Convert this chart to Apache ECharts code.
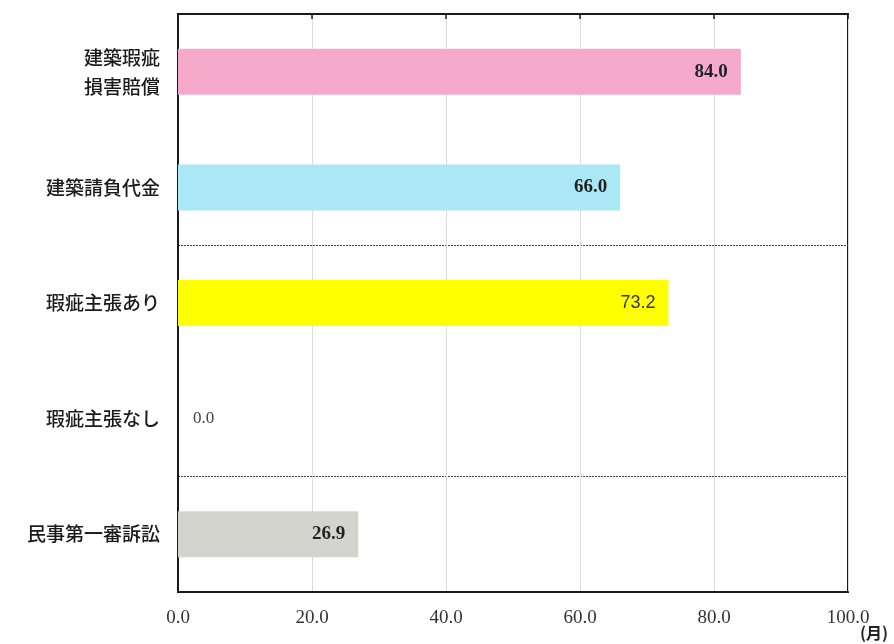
<!DOCTYPE html>
<html>
<head>
<meta charset="utf-8">
<script src="https://cdn.jsdelivr.net/npm/echarts@6/dist/echarts.min.js"></script>
<style>
  html, body { margin: 0; padding: 0; background: #fff; }
  #chart { width: 894px; height: 644px; }
</style>
</head>
<body>
<div id="chart"></div>
<script>
// 審理期間（月）
var categories = ['建築瑕疵\n損害賠償', '建築請負代金', '瑕疵主張あり', '瑕疵主張なし', '民事第一審訴訟'];
var months = [84.0, 66.0, 73.2, 0.0, 26.9];
var barColors = ['#F6AACB', '#ABE8F5', '#FFFF00', '#FFFFFF', '#D4D4CF'];
var xTicks = [0, 20, 40, 60, 80, 100];

var myChart = echarts.init(document.getElementById('chart'));

var serif = '"Liberation Serif", "DejaVu Serif", serif';

var option = {
  backgroundColor: '#fff',
  animation: false,
  grid: {
    left: 178,
    right: 46,
    top: 14,
    bottom: 52,
    outerBoundsMode: 'none',
    containLabel: false,
    show: true,
    borderColor: '#1a1a1a',
    borderWidth: 2
  },
  xAxis: [
    {
      type: 'value',
      min: xTicks[0],
      max: xTicks[xTicks.length - 1],
      interval: 20,
      name: '(月)',
      nameLocation: 'end',
      nameGap: 12,
      nameMoveOverlap: false,
      nameTextStyle: {
        color: '#222',
        fontSize: 16,
        fontWeight: 'bold',
        fontFamily: '"Noto Sans CJK JP", sans-serif',
        align: 'left',
        verticalAlign: 'top',
        padding: [33, 0, 0, 0]
      },
      axisLine: { show: true, lineStyle: { color: '#1a1a1a', width: 2 } },
      axisTick: { show: false },
      axisLabel: {
        margin: 17,
        fontSize: 19,
        color: '#333',
        fontFamily: serif,
        formatter: function (v) { return v.toFixed(1) }
      },
      splitLine: {
        show: true,
        lineStyle: { color: '#dcdcdc', width: 1 }
      }
    },
    {
      // 上辺の目盛り
      type: 'value',
      position: 'top',
      min: xTicks[0],
      max: xTicks[xTicks.length - 1],
      interval: 20,
      axisLine: { show: true, lineStyle: { color: '#1a1a1a', width: 2 } },
      axisTick: { show: true, inside: true, length: 5, lineStyle: { color: '#1a1a1a', width: 1.5 } },
      axisLabel: { show: false },
      splitLine: { show: false }
    }
  ],
  yAxis: {
    type: 'category',
    inverse: true,
    data: categories,
    axisLine: { show: true, lineStyle: { color: '#1a1a1a', width: 2 } },
    axisTick: { show: false },
    axisLabel: {
      margin: 18,
      fontSize: 19,
      fontWeight: 500,
      lineHeight: 29,
      color: '#1a1a1a',
      fontFamily: '"Noto Sans CJK JP", sans-serif'
    },
    splitLine: {
      show: true,
      // グループの区切り（点線）
      interval: function (index) {
        return index === 2 || index === 4
      },
      lineStyle: { color: '#444', width: 1, type: [2, 1] }
    }
  },
  series: [
    {
      type: 'bar',
      xAxisIndex: 0,
      barWidth: 46,
      data: months.map(function (v, i) {
        var item = {
          value: v,
          itemStyle: { color: barColors[i] },
          label: {}
        };
        if (v === 0) {
          item.label = { position: 'right', distance: 15, fontWeight: 'normal', fontSize: 17, color: '#444' };
        } else if (i === 2) {
          item.label = { fontWeight: 'normal', fontFamily: '"Liberation Sans Narrow", "Liberation Sans", sans-serif', fontSize: 18, color: '#333' };
        }
        return item;
      }),
      label: {
        show: true,
        position: 'insideRight',
        distance: 13,
        fontSize: 19,
        fontWeight: 'bold',
        color: '#222',
        fontFamily: serif,
        formatter: function (p) { return p.value.toFixed(1) }
      }
    }
  ]
};

myChart.setOption(option);
</script>
</body>
</html>
